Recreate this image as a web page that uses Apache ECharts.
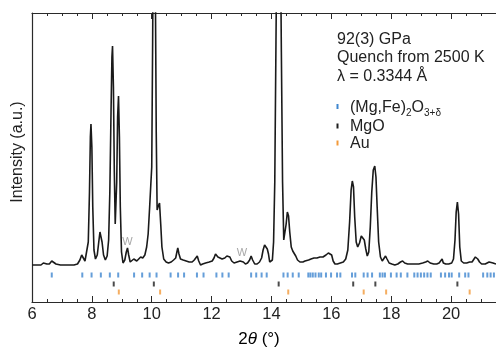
<!DOCTYPE html>
<html><head><meta charset="utf-8">
<script src="https://cdn.jsdelivr.net/npm/echarts@6/dist/echarts.min.js"></script>
<style>html,body{margin:0;padding:0;background:#fff}#c{width:496px;height:348px}</style>
</head><body><div id="c"></div>
<script>
const twoTheta = [6.00,6.15,6.30,6.38,6.44,6.50,6.58,6.66,6.72,6.80,6.95,7.10,7.25,7.40,7.52,7.60,7.66,7.71,7.77,7.83,7.88,7.92,7.95,7.97,8.00,8.03,8.07,8.12,8.18,8.23,8.27,8.30,8.34,8.39,8.45,8.51,8.56,8.60,8.64,8.67,8.69,8.72,8.75,8.78,8.80,8.83,8.86,8.89,8.92,8.95,8.99,9.04,9.10,9.15,9.19,9.23,9.28,9.34,9.40,9.45,9.50,9.56,9.63,9.70,9.77,9.83,9.88,9.93,9.97,10.00,10.03,10.06,10.09,10.12,10.15,10.18,10.22,10.26,10.30,10.34,10.40,10.48,10.56,10.65,10.73,10.80,10.84,10.87,10.91,10.96,11.05,11.15,11.25,11.35,11.42,11.48,11.52,11.57,11.63,11.70,11.80,11.92,12.02,12.08,12.13,12.17,12.21,12.27,12.35,12.44,12.51,12.56,12.61,12.67,12.75,12.85,12.95,13.01,13.06,13.13,13.20,13.27,13.32,13.37,13.44,13.52,13.60,13.67,13.72,13.77,13.81,13.86,13.90,13.94,13.98,14.03,14.07,14.11,14.15,14.19,14.24,14.29,14.33,14.37,14.41,14.45,14.49,14.53,14.57,14.61,14.66,14.71,14.76,14.81,14.87,14.95,15.05,15.12,15.18,15.24,15.32,15.42,15.52,15.62,15.72,15.82,15.90,15.96,16.01,16.06,16.12,16.20,16.30,16.40,16.48,16.55,16.61,16.66,16.70,16.74,16.78,16.83,16.88,16.94,17.00,17.05,17.10,17.15,17.20,17.25,17.30,17.35,17.40,17.45,17.49,17.53,17.58,17.64,17.70,17.76,17.81,17.86,17.93,18.02,18.12,18.22,18.31,18.38,18.45,18.55,18.68,18.80,18.92,19.05,19.15,19.22,19.30,19.42,19.52,19.60,19.66,19.70,19.74,19.82,19.92,20.02,20.08,20.13,20.17,20.21,20.25,20.29,20.34,20.42,20.52,20.62,20.70,20.76,20.81,20.85,20.89,20.95,21.02,21.08,21.14,21.20,21.27,21.33,21.40,21.50];
const intensity = [37,37,37,39,40,38,38,41,40,38,37,37,37,37,38,42,47,45,41,43,60,110,165,178,155,95,52,43,47,60,70,72,60,47,42,46,62,110,190,245,256,215,130,78,76,120,185,206,165,95,50,39,42,50,54,47,40,39,43,44,41,43,45,44,47,55,68,95,118,135,260,420,430,320,170,92,96,99,78,55,43,40,39,40,42,44,50,54,48,43,42,41,40,40,42,44,46,41,37,38,39,40,41,44,48,50,45,43,43,44,46,48,45,41,39,40,41,42,40,38,39,42,46,42,38,38,40,44,52,57,56,53,48,40,38,42,60,120,260,400,450,400,250,120,62,63,78,90,86,70,55,51,49,46,42,40,40,41,43,42,43,44,44,45,45,47,49,50,47,41,38,38,39,40,43,52,80,112,121,115,85,60,55,59,66,67,62,53,46,50,75,110,132,136,125,95,60,45,41,43,46,43,39,38,37,38,40,41,39,38,38,38,38,39,40,41,39,38,38,39,41,43,39,38,38,39,43,62,90,100,88,55,41,39,39,40,40,41,45,47,43,40,38,40,38,39,40,38,39,38];
const phaseMgFeO = [6.66,7.68,7.99,8.30,8.60,8.88,9.41,9.68,9.93,10.16,10.63,10.88,11.08,11.51,11.73,12.16,12.36,12.57,13.32,13.49,13.67,13.84,14.40,14.54,14.71,14.91,15.23,15.30,15.38,15.47,15.58,15.66,15.82,15.99,16.19,16.30,16.69,16.80,17.08,17.21,17.36,17.62,17.71,17.79,17.99,18.18,18.32,18.54,18.77,18.88,18.99,19.10,19.21,19.32,19.66,19.80,19.93,20.02,20.27,20.47,20.58,21.07,21.21,21.32,21.43];
const phaseMgO = [8.73,10.07,14.24,16.73,17.47,20.21];
const phaseAu = [8.90,10.28,14.56,17.08,17.83,20.62];
const xTickLabels = [6,8,10,12,14,16,18,20];

const FONT = '"Liberation Sans", Arial, Helvetica, sans-serif';
const AX = '#2a2a2a';
const BLUE = '#3f86cf', BLACK = '#1e1e1e', ORANGE = '#f39a3a';
const chart = echarts.init(document.getElementById('c'));
function xAx(pos, interval, len, line, labels){
  return {type:'value', position:pos, min:6, max:21.5, interval:interval,
    axisLine:{show:line, lineStyle:{color:AX, width:1.2}},
    axisTick:{show:true, inside:true, length:len, lineStyle:{color:AX, width:1}},
    axisLabel:{show:labels, fontSize:16.5, color:'#222', fontFamily:FONT, margin:4, showMaxLabel:false,
      formatter: v => xTickLabels.indexOf(v) >= 0 ? String(v) : ''},
    splitLine:{show:false}};
}
const tickRow = (arr, y) => arr.map(v => [v, y]);
const option = {
  animation:false,
  grid:{left:32, top:13, right:-1, bottom:46},
  xAxis:[xAx('bottom',2,6,true,true), xAx('top',2,6,true,false), xAx('bottom',0.5,3,false,false), xAx('top',0.5,3,false,false)],
  yAxis:{type:'value', min:0, max:289, axisLine:{show:true, lineStyle:{color:AX, width:1.2}}, axisTick:{show:false}, axisLabel:{show:false}, splitLine:{show:false}},
  series:[
    {type:'line', data:twoTheta.map((t,i)=>[t,intensity[i]]), showSymbol:false, symbol:'none', clip:true,
      lineStyle:{color:'#1a1a1a', width:1.6}},
    {type:'scatter', data:tickRow(phaseMgFeO,27), symbol:'rect', symbolSize:[2,5], itemStyle:{color:BLUE}},
    {type:'scatter', data:tickRow(phaseMgO,18), symbol:'rect', symbolSize:[2,5], itemStyle:{color:BLACK}},
    {type:'scatter', data:tickRow(phaseAu,10), symbol:'rect', symbolSize:[2,5], itemStyle:{color:ORANGE}}
  ],
  graphic:[
    {type:'text', x:337, y:39.5, style:{text:'92(3) GPa', font:'16px '+FONT, fill:'#222', textVerticalAlign:'middle'}},
    {type:'text', x:337, y:58, style:{text:'Quench from 2500 K', font:'16px '+FONT, fill:'#222', textVerticalAlign:'middle'}},
    {type:'text', x:337, y:76.5, style:{text:'λ = 0.3344 Å', font:'16px '+FONT, fill:'#222', textVerticalAlign:'middle'}},
    {type:'rect', shape:{x:336.5, y:104, width:2, height:5}, style:{fill:BLUE}},
    {type:'rect', shape:{x:336.5, y:123.5, width:2, height:5}, style:{fill:BLACK}},
    {type:'rect', shape:{x:336.5, y:140.5, width:2, height:5}, style:{fill:ORANGE}},
    {type:'text', x:350, y:98, style:{text:'{a|(Mg,Fe)}{s|2}{a|O}{s|3+δ}', fill:'#222',
      rich:{a:{fontSize:16, fontFamily:FONT, color:'#222', lineHeight:20}, s:{fontSize:10, fontFamily:FONT, color:'#222', lineHeight:13, verticalAlign:'bottom'}}}},
    {type:'text', x:350, y:127, style:{text:'MgO', font:'16px '+FONT, fill:'#222', textVerticalAlign:'middle'}},
    {type:'text', x:350, y:144, style:{text:'Au', font:'16px '+FONT, fill:'#222', textVerticalAlign:'middle'}},
    {type:'text', x:127.5, y:241.5, style:{text:'W', font:'11px '+FONT, fill:'#a8a8a8', textAlign:'center', textVerticalAlign:'middle'}},
    {type:'text', x:242, y:253, style:{text:'W', font:'11px '+FONT, fill:'#a8a8a8', textAlign:'center', textVerticalAlign:'middle'}},
    {type:'text', x:18, y:152, rotation:Math.PI/2, style:{text:'Intensity (a.u.)', font:'16px '+FONT, fill:'#222', textAlign:'center', textVerticalAlign:'middle'}},
    {type:'text', x:259, y:339, style:{text:'{a|2}{i|θ}{a| (°)}', textAlign:'center', textVerticalAlign:'middle',
      rich:{a:{fontSize:17, fontFamily:FONT, color:'#222'}, i:{fontSize:17, fontFamily:FONT, fontStyle:'italic', color:'#222'}}}}
  ]
};
chart.setOption(option);
</script></body></html>
